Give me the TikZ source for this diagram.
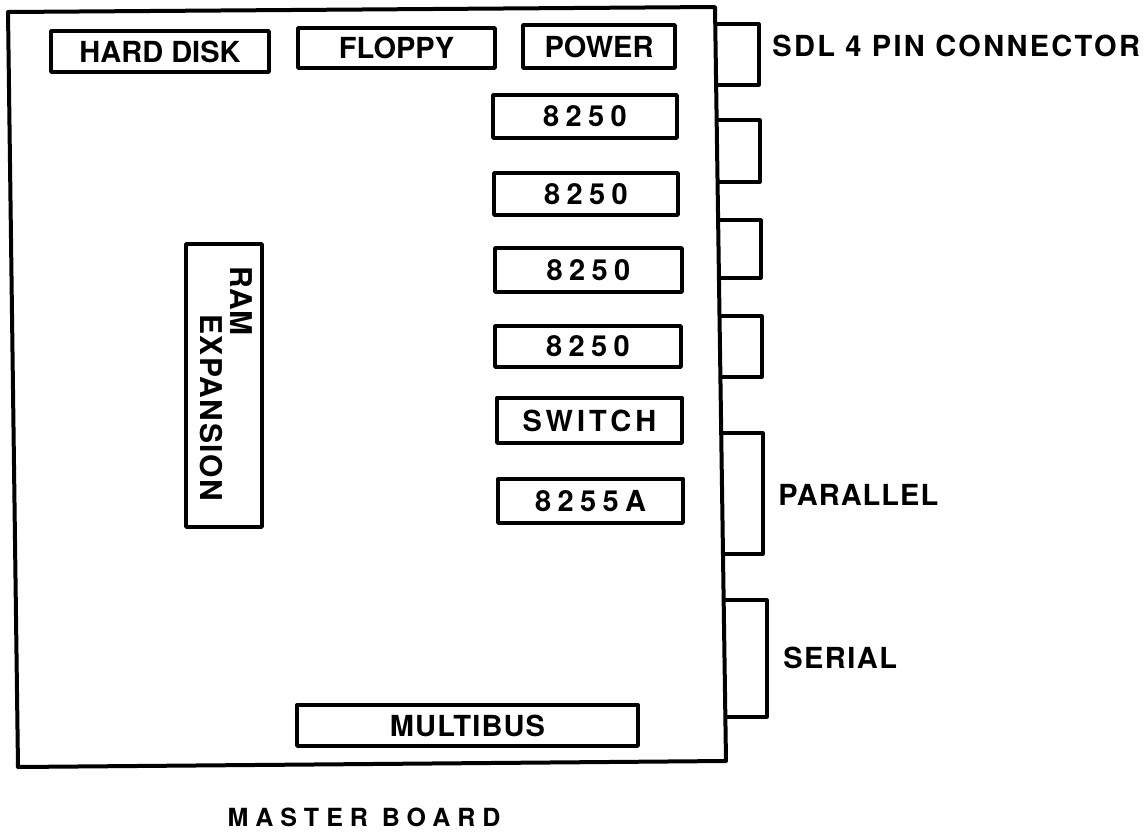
\documentclass[tikz,border=0pt]{standalone}
\usepackage{fontspec}
\setmainfont{TeX Gyre Heros}
\newcommand\lbl{\fontsize{14.5}{17}\selectfont\bfseries}
\newcommand\ramf{\fontsize{15}{18}\selectfont\bfseries}
\newcommand\mbf{\fontsize{12.5}{15}\selectfont\bfseries}
\newcommand\lsp[2]{{\addfontfeatures{LetterSpace=#1}#2}}
\begin{document}
\begin{tikzpicture}[x=0.5pt,y=-0.5pt,line join=round,line cap=round,
  chip/.style 2 args={draw,line width=1.7pt,inner sep=0pt,font=\lbl,
    minimum width=#1*0.5pt,minimum height=#2*0.5pt},
  boardline/.style={draw,line width=2pt},
  conn/.style={draw,line width=1.6pt},
  lab/.style={inner sep=0pt,font=\lbl}]
\useasboundingbox (0,0) rectangle (1147,831);
% board outline
\coordinate (tl) at (8,12);
\coordinate (tr) at (715,7);
\coordinate (br) at (726,761);
\coordinate (bl) at (18,767);
\draw[boardline] (tl) -- (tr) -- (br) -- (bl) -- cycle;
% chips on board
\node[chip={218}{41}] (hdd) at (160,51.5) {HARD DISK};
\node[chip={197}{40}] (fdd) at (396.5,48) {FLOPPY};
\node[chip={152}{43}] (pwr) at (599,46.5) {POWER};
\node[chip={184}{43}] (ua) at (585,116.5) {\lsp{22}{8250}};
\node[chip={184}{42}] (ub) at (586,194) {\lsp{22}{8250}};
\node[chip={187}{44}] (uc) at (588.5,270) {\lsp{22}{8250}};
\node[chip={186}{41}] (ud) at (588,346.5) {\lsp{22}{8250}};
\node[chip={185}{45}] (sw) at (589.5,420.5) {\lsp{14}{SWITCH}};
\node[chip={185}{44}] (ppi) at (590.5,501) {\lsp{22}{8255A}};
\node[chip={341}{41}] (mb) at (467.5,725.5) {\lsp{4}{MULTIBUS}};
\node[chip={76}{283}] (ram) at (224,385.5) {};
\node[rotate=-90,inner sep=0pt,font=\ramf] (ramt) at (241,301) {RAM};
\node[rotate=-90,inner sep=0pt,font=\ramf] (expt) at (211,407.5) {\lsp{5}{EXPANSION}};
% edge connectors
\draw[conn] (715.2,24) -- (759,24) -- (759,85) -- (716.1,85);
\draw[conn] (716.6,120) -- (760,120) -- (760,182) -- (717.6,182);
\draw[conn] (718.1,220) -- (761,220) -- (761,278) -- (719,278);
\draw[conn] (719.5,316) -- (762,316) -- (762,377) -- (720.4,377);
\draw[conn] (721.2,433) -- (763,433) -- (763,554) -- (723,554);
\draw[conn] (723.6,600) -- (767,600) -- (767,717) -- (725.4,717);
% labels
\node[lab,anchor=west] (sdl) at (772,45.5) {\lsp{8}{SDL 4 PIN CONNECTOR}};
\node[lab,anchor=west] (par) at (778,495) {\lsp{3.5}{PARALLEL}};
\node[lab,anchor=west] (ser) at (783,657.5) {\lsp{5}{SERIAL}};
\node[inner sep=0pt,font=\mbf] (title) at (364,817) {\lsp{28}{MASTER BOARD}};
\end{tikzpicture}
\end{document}
